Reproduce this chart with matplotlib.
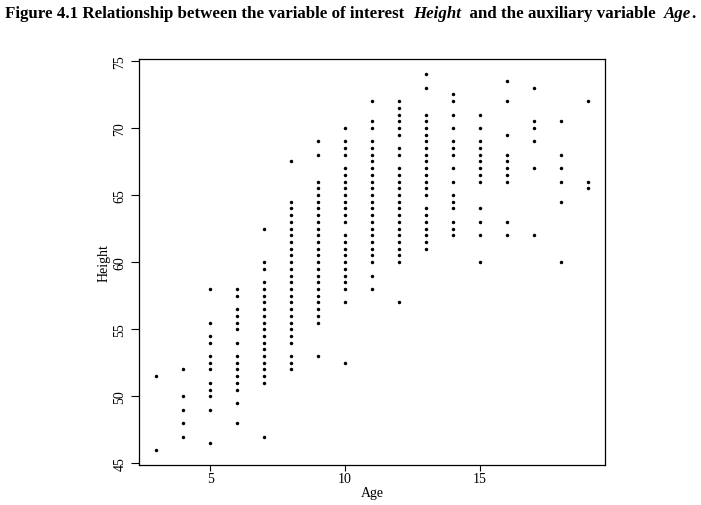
import matplotlib
matplotlib.use('Agg')
import matplotlib.pyplot as plt

plt.rcParams['font.family'] = ['Liberation Serif', 'DejaVu Serif']

ages = [3, 4, 5, 6, 7, 8, 9, 10, 11, 12, 13, 14, 15, 16, 17, 18, 19]

h3 = [46, 51.5]
h4 = [47, 48, 49, 50, 52]
h5 = [46.5, 49, 50, 50.5, 51, 52, 52.5, 53, 54, 54.5, 55.5, 58]
h6 = [48, 49.5, 50.5, 51, 51.5, 52, 52.5, 53, 54, 55, 55.5, 56, 56.5, 57.5, 58]
h7 = [47, 51, 51.5, 52, 52.5, 53, 53.5, 54, 54.5, 55, 55.5, 56, 56.5, 57,
      57.5, 58, 58.5, 59.5, 60, 62.5]
h8 = [52, 52.5, 53, 54, 54.5, 55, 55.5, 56, 56.5, 57, 57.5, 58, 58.5, 59,
      59.5, 60, 60.5, 61, 61.5, 62, 62.5, 63, 63.5, 64, 64.5, 67.5]
h9 = [53, 55.5, 56, 56.5, 57, 57.5, 58, 58.5, 59, 59.5, 60, 60.5, 61, 61.5,
      62, 62.5, 63, 63.5, 64, 64.5, 65, 65.5, 66, 68, 69]
h10 = [52.5, 57, 58, 58.5, 59, 59.5, 60, 60.5, 61, 61.5, 62, 63, 63.5, 64,
       64.5, 65, 65.5, 66, 66.5, 67, 68, 68.5, 69, 70]
h11 = [58, 59, 60, 60.5, 61, 61.5, 62, 62.5, 63, 63.5, 64, 64.5, 65, 65.5,
       66, 66.5, 67, 67.5, 68, 68.5, 69, 70, 70.5, 72]
h12 = [57, 60, 60.5, 61, 61.5, 62, 62.5, 63, 63.5, 64, 64.5, 65, 65.5, 66,
       66.5, 67, 68, 68.5, 69.5, 70, 70.5, 71, 71.5, 72]
h13 = [61, 61.5, 62, 62.5, 63, 63.5, 64, 65, 65.5, 66, 66.5, 67, 67.5, 68,
       68.5, 69, 69.5, 70, 70.5, 71, 73, 74]
h14 = [62, 62.5, 63, 64, 64.5, 65, 66, 67, 68, 68.5, 69, 70, 71, 72, 72.5]
h15 = [60, 62, 63, 64, 66, 66.5, 67, 67.5, 68, 68.5, 69, 70, 71]
h16 = [62, 63, 66, 66.5, 67, 67.5, 68, 69.5, 72, 73.5]
h17 = [62, 67, 69, 70, 70.5, 73]
h18 = [60, 64.5, 66, 67, 68, 70.5]
h19 = [65.5, 66, 72]

heights = [h3, h4, h5, h6, h7, h8, h9, h10, h11, h12, h13, h14, h15, h16,
           h17, h18, h19]

x = []
y = []
for a, hs in zip(ages, heights):
    x += [a] * len(hs)
    y += hs

fig = plt.figure(figsize=(7.01, 5.06), dpi=100)
ax = fig.add_axes([0.1983, 0.079, 0.6647, 0.802])

ax.plot(x, y, 'o', color='black', markersize=2.5, markeredgewidth=0)

ax.set_xlim(2.36, 19.64)
ax.set_ylim(44.88, 75.12)
ax.set_xticks([5, 10, 15])
ax.set_yticks([45, 50, 55, 60, 65, 70, 75])
ax.tick_params(direction='out', width=0.8, labelsize=10)
ax.tick_params(axis='x', length=4, pad=1)
ax.tick_params(axis='y', length=6, pad=3)
for lab in ax.get_yticklabels():
    lab.set_rotation(90)
    lab.set_va('center')
for s in ax.spines.values():
    s.set_linewidth(0.9)

ax.set_xlabel('Age', fontsize=10, labelpad=1)
ax.set_ylabel('Height', fontsize=10, labelpad=2)

# title: mixed upright / italic pieces placed one after another
pieces = [
    ('Figure 4.1 Relationship between the variable of interest  ', 'normal'),
    ('Height', 'italic'),
    ('  and the auxiliary variable  ', 'normal'),
    ('Age', 'italic'),
    ('.', 'normal'),
]
fig.canvas.draw()
renderer = fig.canvas.get_renderer()
xpos = 5
for txt, style in pieces:
    t = fig.text(xpos / 701, 1 - 14 / 506, txt, fontsize=12.2, fontweight='bold',
                 fontstyle=style, va='center', ha='left')
    bb = t.get_window_extent(renderer)
    xpos = bb.x1

fig.savefig('out.png', dpi=100)
